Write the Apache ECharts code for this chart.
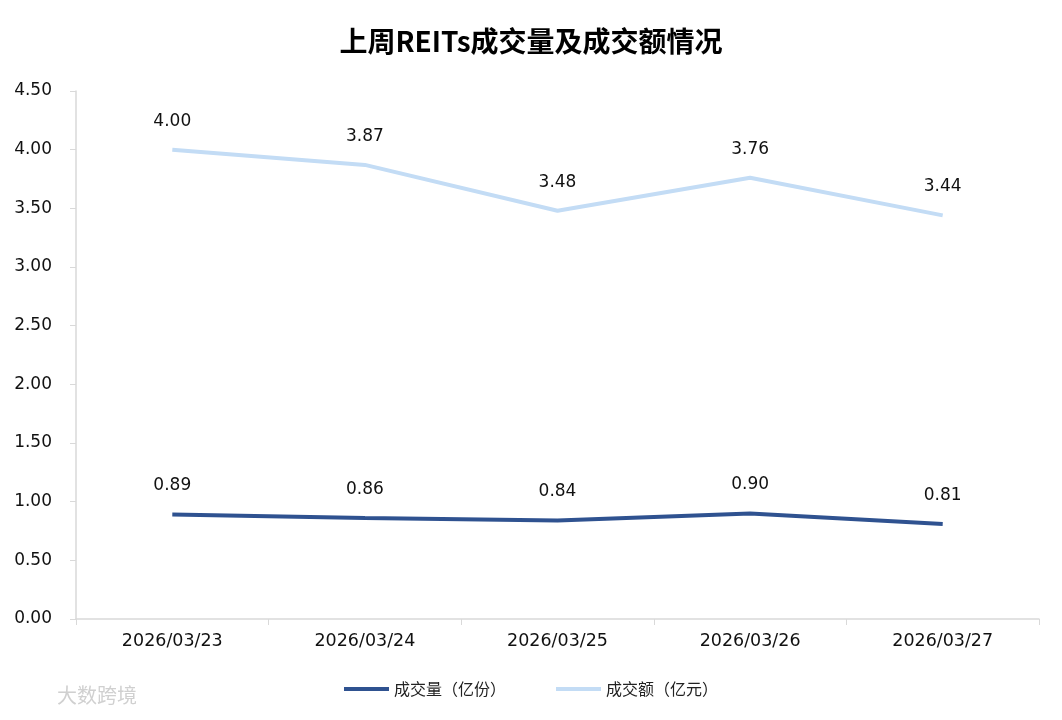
<!DOCTYPE html>
<html><head><meta charset="utf-8">
<script src="https://cdn.jsdelivr.net/npm/echarts@6/dist/echarts.min.js"></script>
<style>html,body{margin:0;padding:0;background:#fff}#c{width:1062px;height:720px}</style>
</head><body><div id="c"></div>
<script>
const categories = ['2026/03/23','2026/03/24','2026/03/25','2026/03/26','2026/03/27'];
const volume = [0.89, 0.86, 0.84, 0.90, 0.81];
const amount = [4.00, 3.87, 3.48, 3.76, 3.44];
const seriesNames = ['成交量（亿份）', '成交额（亿元）'];
const titleText = '上周REITs成交量及成交额情况';
const font = '"DejaVu Sans", "Noto Sans CJK SC", sans-serif';
const cjk = '"Noto Sans CJK SC", "Noto Sans", sans-serif';
const chart = echarts.init(document.getElementById('c'));
chart.setOption({
  backgroundColor: '#fff',
  textStyle: {fontFamily: font},
  title: {text: titleText, left: 'center', top: 22,
    textStyle: {fontSize: 28, fontWeight: 'bold', color: '#000', fontFamily: cjk}},
  legend: {bottom: 18, left: 'center', itemWidth: 45, itemHeight: 4, itemGap: 50,
    icon: 'rect',
    textStyle: {fontSize: 16, color: '#222', fontFamily: cjk},
    data: seriesNames},
  grid: {left: 76, right: 23, top: 91, bottom: 101, containLabel: false},
  xAxis: {type: 'category', data: categories, boundaryGap: true,
    axisLine: {lineStyle: {color: '#d9d9d9', width: 1.5}},
    axisTick: {show: true, length: 6, lineStyle: {color: '#d9d9d9'}},
    axisLabel: {fontSize: 17.5, color: '#111', margin: 14, fontFamily: font}},
  yAxis: {type: 'value', min: 0, max: 4.5, interval: 0.5,
    axisLine: {show: true, lineStyle: {color: '#d9d9d9', width: 1.5}},
    axisTick: {show: true, length: 6, lineStyle: {color: '#d9d9d9'}},
    splitLine: {show: false},
    axisLabel: {fontSize: 17, color: '#111', margin: 24, fontFamily: font, formatter: v => v.toFixed(2)}},
  series: [
    {name: seriesNames[0], type: 'line', data: volume, symbol: 'circle', symbolSize: 0, showSymbol: true,
      lineStyle: {width: 4, color: '#2f5290'}, itemStyle: {color: '#2f5290'},
      label: {show: true, position: 'top', distance: 20, fontSize: 17, color: '#111', fontFamily: font,
        formatter: p => p.value.toFixed(2)}},
    {name: seriesNames[1], type: 'line', data: amount, symbol: 'circle', symbolSize: 0, showSymbol: true,
      lineStyle: {width: 4, color: '#c3dcf5'}, itemStyle: {color: '#c3dcf5'},
      label: {show: true, position: 'top', distance: 20, fontSize: 17, color: '#111', fontFamily: font,
        formatter: p => p.value.toFixed(2)}}
  ],
  graphic: [{type: 'text', left: 57, top: 685,
    style: {text: '大数跨境', fontSize: 20, fill: '#d0d0d0', fontFamily: cjk}}]
});
</script></body></html>
